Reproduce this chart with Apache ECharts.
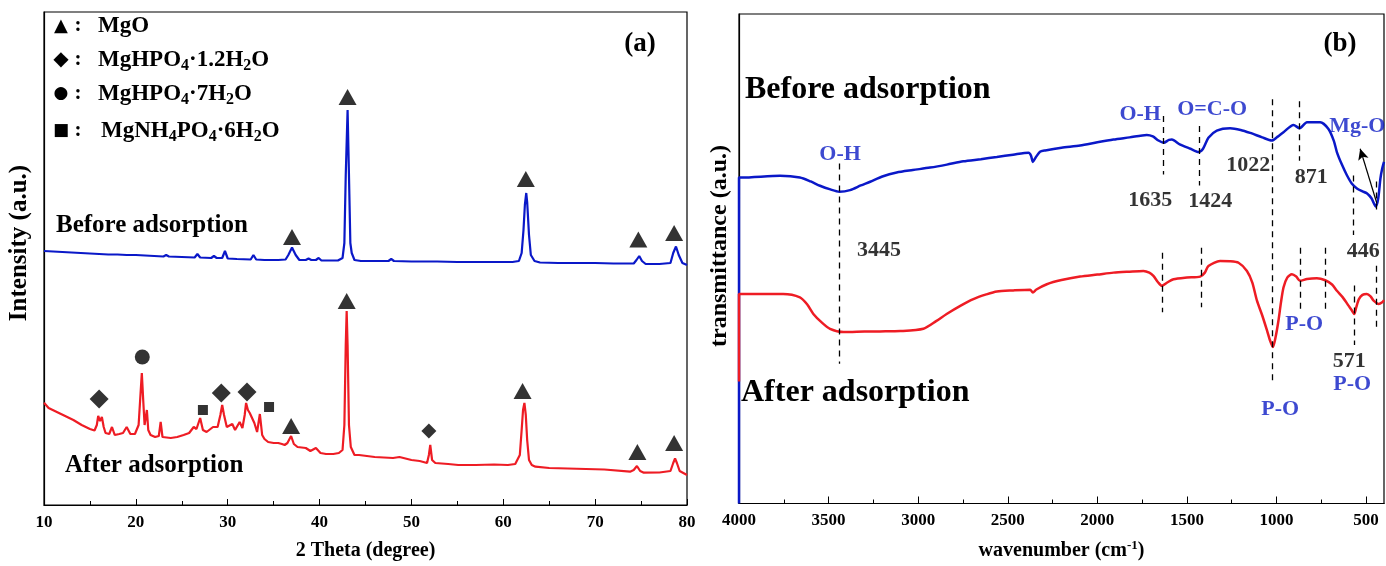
<!DOCTYPE html>
<html><head><meta charset="utf-8">
<script src="https://cdn.jsdelivr.net/npm/echarts@6/dist/echarts.min.js"></script>
<style>html,body{margin:0;padding:0;background:#fff}#c{width:1386px;height:566px}</style>
</head><body><div id="c"></div>
<script>
// ---------- DATA ----------
// XRD (panel a): [2theta, intensity a.u.]
const xrdBefore = [[10,254],[11,253.5],[12,253],[13,252.5],[14,252],[15,251.5],[16,251],[17,250.5],[18,250.5],[19,250],[20,250],[21,249.5],[22,249],[23,248.5],[23.3,250],[23.6,248.5],[25,248],[26.4,247.5],[26.7,251],[27,247.5],[28.2,247],[28.5,249],[28.8,247],[29.4,247],[29.7,254],[30,246.5],[31,246],[32.5,245.5],[32.8,250],[33.1,245.5],[34,245],[35.5,245],[36.3,245.5],[36.6,250],[37.0,257.5],[37.4,250],[37.8,245],[38.5,245],[38.8,246.5],[39.1,245],[39.6,245],[39.9,247],[40.2,244.5],[41,244.5],[42.0,244.5],[42.5,247],[42.7,262],[42.85,330],[43.05,395],[43.2,330],[43.35,262],[43.5,252],[43.8,245],[44.5,244],[46,244],[47.5,244],[47.8,246],[48.1,244],[50,243.5],[52.3,243.5],[52.5,245.5],[52.8,243.5],[55,243],[58,243],[61,243],[61.7,244],[62.0,252],[62.2,275],[62.35,300],[62.5,312],[62.6,303],[62.8,270],[63.0,250],[63.2,249],[63.4,244],[64,242.5],[66,242],[68,242],[70,242],[72,241.5],[74.2,241.5],[74.5,245],[74.8,249],[75.1,244],[75.5,241],[77,241],[78.2,242],[78.5,252],[78.8,258.5],[79.1,250],[79.5,242],[80,240]];
const xrdAfter = [[10,102.3],[10.5,97],[11.4,93],[12.3,89],[13.2,85],[14.1,80],[15.0,76],[15.5,74.5],[15.75,80],[15.9,89],[16.1,84],[16.3,88],[16.5,78],[16.7,72],[17.1,71],[17.4,78],[17.7,70],[18.2,71],[18.6,72],[19.0,78],[19.4,71],[19.9,71],[20.3,80],[20.5,110],[20.65,132],[20.8,105],[20.95,80],[21.05,78],[21.2,95],[21.35,75],[21.6,70],[22.1,68],[22.5,69],[22.7,83],[22.9,68],[23.8,67],[24.5,68],[25.2,70],[25.8,72],[26.3,78],[26.6,76],[27.0,87],[27.3,75],[27.7,73],[28.4,78],[28.9,78],[29.2,90],[29.4,100],[29.6,90],[29.9,78],[30.5,81],[30.8,75],[31.3,83],[31.6,77],[31.85,90],[32.0,102],[32.2,95],[32.4,92],[32.6,94],[32.9,82],[33.2,73],[33.5,91],[33.75,70],[34.0,66],[34.4,63],[35.0,62],[35.5,62],[35.9,61],[36.2,60],[36.5,62],[36.9,69],[37.2,61],[37.6,58],[38.5,57],[39.0,54],[39.6,57],[40.1,52],[40.7,51],[41.5,51],[42.1,52],[42.5,55],[42.7,80],[42.85,160],[42.95,194],[43.05,160],[43.2,80],[43.4,58],[43.8,50],[44.3,50],[46,48],[48,47],[48.7,48],[50,45],[50.9,44],[51.7,42],[51.9,50],[52.05,60],[52.25,45],[52.6,42],[54,41],[55.1,40],[57,40],[59,40.5],[60.5,40],[61.3,41],[61.8,50],[62.0,75],[62.15,95],[62.3,102],[62.45,90],[62.6,65],[62.8,45],[63.1,40],[63.5,38.3],[65,37],[67,36.5],[69,36],[71,35.5],[73.8,33.3],[74.2,35],[74.55,39],[74.9,34],[75.3,32.3],[77,32.5],[78.2,34],[78.5,42],[78.7,46.7],[78.9,42],[79.2,34],[79.6,32],[80,30]];
// phase markers [2theta, height]
const triBefore = [[37.0,268],[43.05,408],[62.45,326],[74.7,265.5],[78.6,272]];
const triAfter = [[36.9,79],[42.95,204],[62.1,114],[74.6,53],[78.6,62]];
const diaAfter = [[16.0,106],[29.3,112],[32.1,113]];
const diaSmall = [[51.9,74]];
const cirAfter = [[20.7,148]];
const sqAfter = [[27.3,95],[34.5,98]];
// legend rows: symbol, label ("_n" = subscript n)
const legendSyms = ['▲','◆','●','■'];
const legendTexts = ['MgO','MgHPO_4·1.2H_2O','MgHPO_4·7H_2O','MgNH_4PO_4·6H_2O'];
const xrdTicks = {min:10, max:80, step:10};

// FTIR (panel b): [wavenumber, transmittance a.u.]
const ftirBefore = [[4000,0],[4000,329],[3985,329],[3771,330.7],[3660,329],[3600,325],[3548,320.7],[3490,317],[3440,314.7],[3380,316.3],[3320,321],[3268,324.7],[3200,330],[3120,334],[3030,336.5],[2934,339],[2840,342],[2748,345.3],[2650,347.5],[2561,349.7],[2470,352],[2384,354],[2370,351],[2360,344.7],[2345,349],[2320,355],[2291,356.3],[2200,359],[2096,361.3],[2000,364.5],[1910,367.3],[1820,369.5],[1724,372],[1690,370.5],[1659,366.3],[1630,364],[1600,367],[1584,367.3],[1540,362.5],[1480,358],[1435,354.7],[1410,358],[1380,369],[1333,376.3],[1259,378.7],[1200,377],[1147,374],[1080,369.5],[1026,366.3],[995,370],[961,374.7],[905,382],[871,378.7],[830,384.7],[756,384.7],[710,378],[680,366],[663,354.7],[635,342],[607,331.3],[580,323],[551,318],[520,315],[496,313],[470,308],[446,299.7],[432,308],[420,328],[410,338],[400,344.7]];
const ftirAfter = [[4000,123],[4000,211.3],[3985,211.3],[3754,211.3],[3660,208],[3620,201],[3585,191.3],[3540,183],[3492,176.3],[3417,173],[3300,173.5],[3213,173.7],[3100,174],[2971,176.3],[2900,184],[2841,191.3],[2760,200],[2692,206.3],[2620,211],[2561,214],[2470,215],[2375,215.7],[2360,213],[2340,216],[2282,221.3],[2200,225.5],[2096,229],[2000,231],[1910,233],[1820,234],[1743,234.7],[1710,233],[1687,229.7],[1660,223],[1640,219.7],[1610,223],[1575,226.3],[1500,228],[1426,229],[1400,233],[1380,239.7],[1315,244.7],[1260,244.5],[1212,243],[1165,234.7],[1135,223],[1109,204.7],[1080,190],[1053,174.7],[1035,164],[1020,158],[1005,168],[989,184.7],[975,203],[961,218],[940,228],[914,231.3],[890,229],[868,224.7],[830,226.5],[775,227.3],[728,225.3],[690,221],[663,214.7],[630,208],[598,199.7],[580,195],[566,191.3],[555,198],[540,206.3],[520,210.5],[496,211.3],[475,209],[458,204.7],[430,201.3],[410,203],[400,205.3]];
// dashed guide lines [wavenumber, from, to]
const guides = [[3440,343,141],[1630,391,332],[1635,253,193],[1430,381,321],[1420,258,198],[1022,408,121],[871,406,346],[868,258,196],[728,258,196],[571,331,271],[566,220,160],[446,325,296],[443,240,178]];
const arrow = [[440,303],[533,358]];
// annotations [wavenumber, height, text, kind]
const notes = [[3436,352,'O-H','b'],[3218,256,'3445','k'],[1761,393,'O-H','b'],[1359,398,'O=C-O','b'],[1705,306,'1635','k'],[1370,305,'1424','k'],[1158,341,'1022','k'],[806,329,'871','k'],[549,381,'Mg-O','b'],[516,255,'446','k'],[845,181,'P-O','b'],[979,95,'P-O','b'],[594,143,'571','k'],[577,120,'P-O','b']];
const ftirMajor = [4000,3500,3000,2500,2000,1500,1000,500];
const ftirMinor = [3750,3250,2750,2250,1750,1250,750];

// ---------- CHART ----------
const FF = "'Liberation Serif','Times New Roman',serif";
const BLUE = '#0a18c8', RED = '#ee1c24', TBLUE = '#0d1cc4';
const chart = echarts.init(document.getElementById('c'), null, {renderer:'canvas'});
const bold = {fontFamily:FF, fontWeight:'bold', color:'#000'};

function scatter(data, symbol, size){
  return {type:'scatter', xAxisIndex:0, yAxisIndex:0, data, symbol, symbolSize:size,
    itemStyle:{color:'#000'}, silent:true, z:5};
}
function richLabel(s){
  return '{t|' + s.replace(/_(\d)/g, '}{sub|$1}{t|') + '}';
}
const symSizes = [18,20,17,17];
const rowCenters = [26,60,94,131];
const legendGraphics = [];
legendSyms.forEach((s,i)=>{
  legendGraphics.push({type:'text', x:61, y:rowCenters[i],
    style:{text:s, fontFamily:"'DejaVu Sans',sans-serif", fontSize:symSizes[i], fill:'#000', align:'center', verticalAlign:'middle'}});
  legendGraphics.push({type:'text', x:78, y:rowCenters[i],
    style:{text:':', fontFamily:FF, fontWeight:'bold', fontSize:21, fill:'#000', align:'center', verticalAlign:'middle'}});
  legendGraphics.push({type:'text', x: i===3?101:98, y:rowCenters[i],
    style:{text:richLabel(legendTexts[i]), verticalAlign:'middle', align:'left',
      rich:{ t:{fontFamily:FF, fontWeight:'bold', fontSize:23, fill:'#000', lineHeight:26},
             sub:{fontFamily:FF, fontWeight:'bold', fontSize:16, fill:'#000', lineHeight:26, padding:[11,0,0,0]} }}});
});

const option = {
  animation:false,
  backgroundColor:'#fff',
  grid:[
    {left:44, top:12, width:643, height:493, show:true, borderColor:'#000', borderWidth:1.2, backgroundColor:'transparent'},
    {left:739, top:14, width:645, height:494, show:true, borderColor:'#000', borderWidth:1.2, backgroundColor:'transparent'}
  ],
  xAxis:[
    {type:'value', gridIndex:0, min:xrdTicks.min, max:xrdTicks.max, interval:xrdTicks.step,
     axisLine:{lineStyle:{color:'#000', width:1.2}}, axisTick:{inside:true, length:6, lineStyle:{color:'#000'}},
     minorTick:{show:true, splitNumber:2, length:4, lineStyle:{color:'#000'}},
     axisLabel:{...bold, fontSize:17, margin:9, formatter:v=>String(v)}, splitLine:{show:false},
     name:'2 Theta (degree)', nameLocation:'middle', nameGap:36, nameTextStyle:{...bold, fontSize:20}},
    {type:'value', gridIndex:1, position:'bottom', min:400, max:4000, inverse:true,
     axisLine:{lineStyle:{color:'#000', width:1.2}},
     axisTick:{inside:true, length:7, customValues:ftirMajor, lineStyle:{color:'#000'}},
     axisLabel:{...bold, fontSize:17, margin:9, customValues:ftirMajor, formatter:v=>String(v)}, splitLine:{show:false},
     name:'wavenumber (cm{sup|-1})', nameLocation:'middle', nameGap:36,
     nameTextStyle:{...bold, fontSize:20, rich:{sup:{fontFamily:FF, fontWeight:'bold', fontSize:13, padding:[0,0,10,0]}}}},
    {type:'value', gridIndex:1, position:'bottom', offset:0, min:400, max:4000, inverse:true,
     axisLine:{show:false}, axisLabel:{show:false}, splitLine:{show:false},
     axisTick:{inside:true, length:4, customValues:ftirMinor, lineStyle:{color:'#000'}}}
  ],
  yAxis:[
    {type:'value', gridIndex:0, min:0, max:493, axisLabel:{show:false}, axisTick:{show:false}, splitLine:{show:false},
     axisLine:{show:true, lineStyle:{color:'#000', width:1.2}}},
    {type:'value', gridIndex:1, min:0, max:494, axisLabel:{show:false}, axisTick:{show:false}, splitLine:{show:false},
     axisLine:{show:true, lineStyle:{color:'#000', width:1.2}}}
  ],
  graphic:[
    ...legendGraphics,
    {type:'text', x:20, y:243, rotation:Math.PI/2,
     style:{text:'Intensity (a.u.)', fontFamily:FF, fontWeight:'bold', fontSize:25, fill:'#000', align:'center', verticalAlign:'middle'}},
    {type:'text', x:720, y:246, rotation:Math.PI/2,
     style:{text:'transmittance (a.u.)', fontFamily:FF, fontWeight:'bold', fontSize:24, fill:'#000', align:'center', verticalAlign:'middle'}},
    {type:'text', x:640, y:44, style:{text:'(a)', fontFamily:FF, fontWeight:'bold', fontSize:27, fill:'#000', align:'center', verticalAlign:'middle'}},
    {type:'text', x:1340, y:44, style:{text:'(b)', fontFamily:FF, fontWeight:'bold', fontSize:27, fill:'#000', align:'center', verticalAlign:'middle'}},
    {type:'text', x:56, y:226, style:{text:'Before adsorption', fontFamily:FF, fontWeight:'bold', fontSize:25, fill:'#000', verticalAlign:'middle'}},
    {type:'text', x:65, y:466, style:{text:'After adsorption', fontFamily:FF, fontWeight:'bold', fontSize:25, fill:'#000', verticalAlign:'middle'}},
    {type:'text', x:745, y:90, style:{text:'Before adsorption', fontFamily:FF, fontWeight:'bold', fontSize:32, fill:'#000', verticalAlign:'middle'}},
    {type:'text', x:741, y:393, style:{text:'After adsorption', fontFamily:FF, fontWeight:'bold', fontSize:32, fill:'#000', verticalAlign:'middle'}}
  ],
  series:[
    {type:'line', xAxisIndex:0, yAxisIndex:0, data:xrdBefore, showSymbol:false, lineStyle:{color:BLUE, width:2.2}, silent:true, z:3},
    {type:'line', xAxisIndex:0, yAxisIndex:0, data:xrdAfter, showSymbol:false, lineStyle:{color:RED, width:2.2}, silent:true, z:3},
    scatter(triBefore,'triangle',[18,16]),
    scatter(triAfter,'triangle',[18,16]),
    scatter(diaAfter,'diamond',[19,19]),
    scatter(diaSmall,'diamond',[15,15]),
    scatter(cirAfter,'circle',15),
    scatter(sqAfter,'rect',10),
    {type:'line', xAxisIndex:1, yAxisIndex:1, data:ftirBefore, showSymbol:false, smooth:0.25, lineStyle:{color:BLUE, width:2.5}, silent:true, z:3},
    {type:'line', xAxisIndex:1, yAxisIndex:1, data:ftirAfter, showSymbol:false, smooth:0.25, lineStyle:{color:RED, width:2.5}, silent:true, z:4},
    {type:'line', xAxisIndex:1, yAxisIndex:1, data:[], silent:true,
     markLine:{silent:true, symbol:['none','none'], label:{show:false},
       lineStyle:{color:'#000', type:[6,5], width:1.3},
       data: guides.map(g=>[{coord:[g[0],g[1]]},{coord:[g[0],g[2]]}])}},
    {type:'line', xAxisIndex:1, yAxisIndex:1, data:[], silent:true,
     markLine:{silent:true, symbol:['none','arrow'], symbolSize:[8,11], label:{show:false},
       lineStyle:{color:'#000', type:'solid', width:1.2},
       data:[[{coord:arrow[0]},{coord:arrow[1]}]]}},
    {type:'scatter', xAxisIndex:1, yAxisIndex:1, symbolSize:0, silent:true, z:6,
     data: notes.map(n=>({value:[n[0],n[1]], name:n[2],
       label:{show:true, position:'inside', formatter:n[2], fontFamily:FF, fontWeight:'bold',
              fontSize:22, color: n[3]==='b'?TBLUE:'#000'}}))}
  ]
};
chart.setOption(option);
</script></body></html>
